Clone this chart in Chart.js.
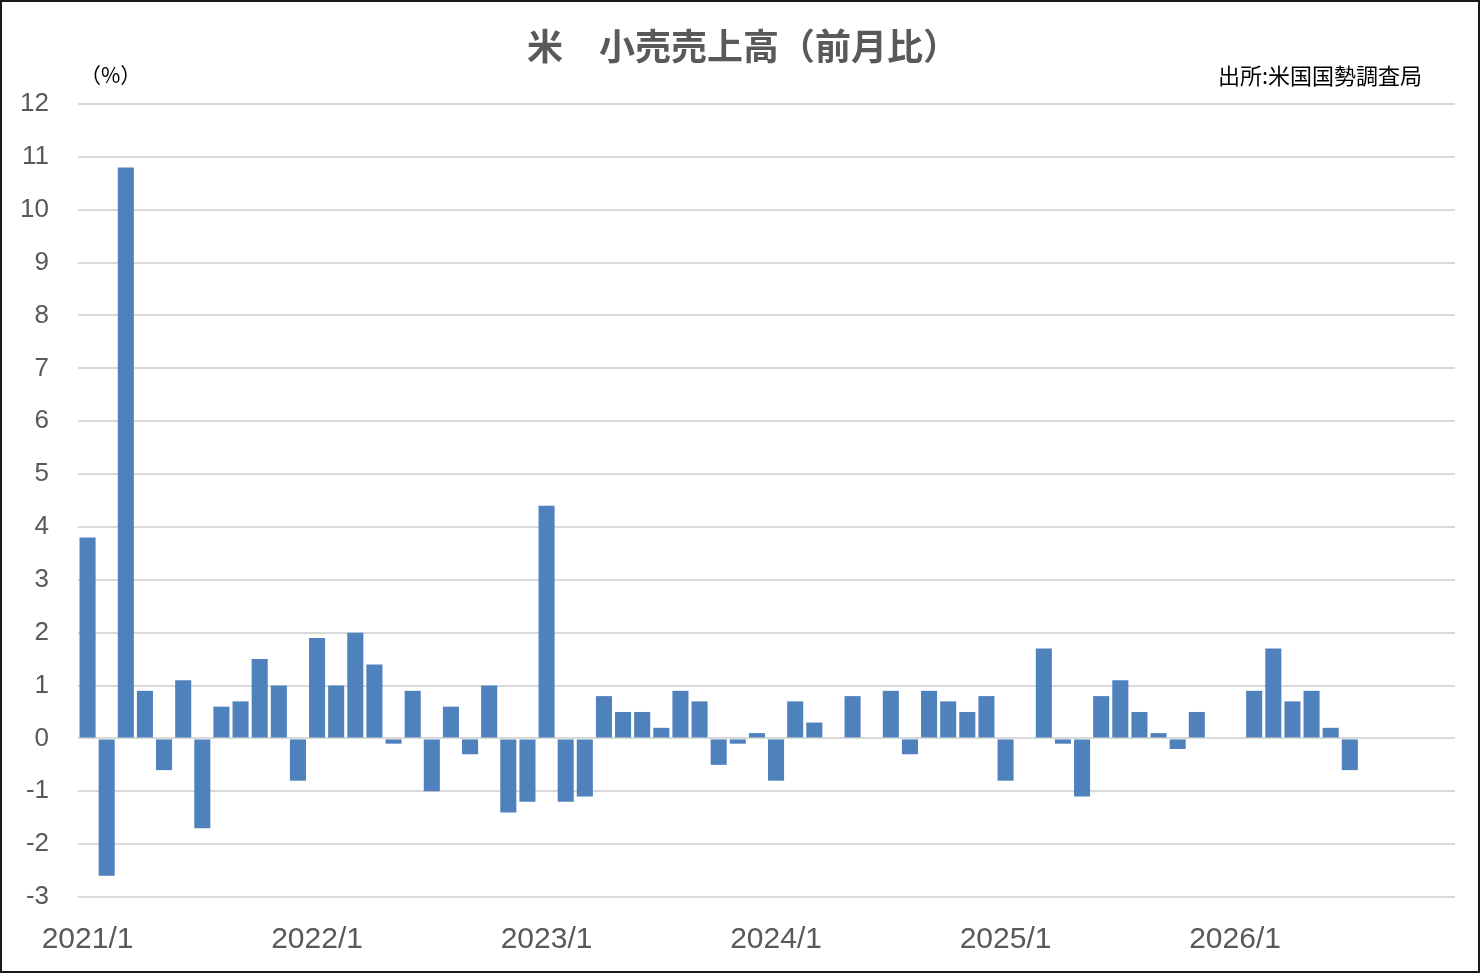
<!DOCTYPE html>
<html>
<head>
<meta charset="utf-8">
<script src="https://cdn.jsdelivr.net/npm/chart.js@4/dist/chart.umd.min.js"></script>
<style>
  html, body { margin: 0; padding: 0; background: #fff; }
  #box { width: 1480px; height: 973px; box-sizing: border-box; border: 2px solid #1a1a1a; position: relative; }
</style>
</head>
<body>
<div id="box"><canvas id="chart"></canvas></div>
<script>
// data
var years = [2021, 2022, 2023, 2024, 2025, 2026];
var months = [1, 2, 3, 4, 5, 6, 7, 8, 9, 10, 11, 12];
var categories = [];
years.forEach(function (y) { months.forEach(function (m) { categories.push(y + '/' + m); }); });

var retailMoM = [
  3.8, -2.6, 10.8, 0.9, -0.6, 1.1, -1.7, 0.6, 0.7, 1.5, 1.0, -0.8,
  1.9, 1.0, 2.0, 1.4, -0.1, 0.9, -1.0, 0.6, -0.3, 1.0, -1.4, -1.2,
  4.4, -1.2, -1.1, 0.8, 0.5, 0.5, 0.2, 0.9, 0.7, -0.5, -0.1, 0.1,
  -0.8, 0.7, 0.3, 0.0, 0.8, 0.0, 0.9, -0.3, 0.9, 0.7, 0.5, 0.8,
  -0.8, 0.0, 1.7, -0.1, -1.1, 0.8, 1.1, 0.5, 0.1, -0.2, 0.5, 0.0,
  0.0, 0.9, 1.7, 0.7, 0.9, 0.2, -0.6, null, null, null, null, null
];

var titleText = '米\u3000小売売上高（前月比）';
var unitText = '（%）';
var sourceText = '出所:米国国勢調査局';

var textPlugin = {
  id: 'texts',
  afterDraw: function (chart) {
    var c = chart.ctx;
    c.save();
    c.fillStyle = '#595959';
    c.font = 'bold 36px "Noto Sans CJK JP"';
    c.textAlign = 'center';
    c.textBaseline = 'middle';
    c.fillText(titleText, 741, 44);
    c.fillStyle = '#000';
    c.font = '21px "Noto Sans CJK JP"';
    c.textAlign = 'left';
    c.fillText(unitText, 78, 73);
    c.font = '22px "Noto Sans CJK JP"';
    c.textAlign = 'right';
    c.fillText(sourceText, 1420, 74);
    c.restore();
  }
};

var ctx = document.getElementById('chart');
var chart = new Chart(ctx, {
  type: 'bar',
  data: {
    labels: categories,
    datasets: [{
      label: '前月比',
      data: retailMoM,
      backgroundColor: '#4F81BD',
      borderWidth: 0,
      barPercentage: 0.84,
      categoryPercentage: 1.0
    }]
  },
  options: {
    responsive: true,
    maintainAspectRatio: false,
    animation: false,
    layout: { padding: { left: 0, right: 23, top: 102, bottom: 0 } },
    plugins: { legend: { display: false }, title: { display: false }, tooltip: { enabled: false } },
    scales: {
      x: {
        grid: { display: false, drawTicks: false },
        border: { display: false },
        afterFit: function (s) { s.height = 74; },
        ticks: {
          autoSkip: false,
          maxRotation: 0,
          padding: 25,
          color: '#595959',
          font: { family: '"Liberation Sans"', size: 30 },
          callback: function (v, i) { return i % 12 === 0 ? categories[i] : ''; }
        }
      },
      y: {
        min: -3,
        max: 12,
        grid: { color: '#d9d9d9', lineWidth: 2, drawTicks: false },
        border: { display: false },
        afterFit: function (s) { s.width = 76; },
        ticks: {
          stepSize: 1,
          padding: 29,
          color: '#595959',
          font: { family: '"Liberation Sans"', size: 26 }
        }
      }
    }
  },
  plugins: [textPlugin]
});
</script>
</body>
</html>
